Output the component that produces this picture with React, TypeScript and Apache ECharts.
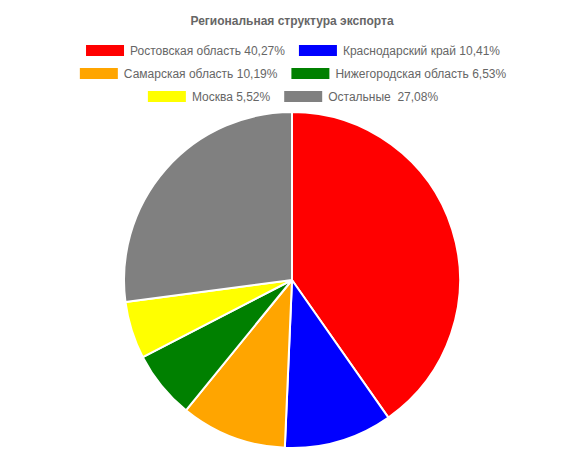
import React, { useEffect, useRef } from "react";
import * as echarts from "echarts";

const categories = [
  "Ростовская область 40,27%",
  "Краснодарский край 10,41%",
  "Самарская область 10,19%",
  "Нижегородская область 6,53%",
  "Москва 5,52%",
  "Остальные  27,08%",
];
const values = [40.27, 10.41, 10.19, 6.53, 5.52, 27.08];
const colors = ["#ff0000", "#0000ff", "#ffa500", "#008000", "#ffff00", "#808080"];
const legendRows = [
  [categories[0], categories[1]],
  [categories[2], categories[3]],
  [categories[4], categories[5]],
];

export default function App() {
  const ref = useRef<HTMLDivElement>(null);
  useEffect(() => {
    document.body.style.margin = "0";
    const chart = echarts.init(ref.current!, null, { renderer: "svg" });
    const font = "Arial, Liberation Sans, sans-serif";
    chart.setOption({
      animation: false,
      title: {
        text: "Региональная структура экспорта",
        left: "center",
        top: 10,
        textStyle: { fontSize: 12, fontWeight: "bold", color: "#666", fontFamily: font },
      },
      legend: legendRows.map((row, i) => ({
        top: 38 + i * 23,
        left: "center",
        icon: "rect",
        itemWidth: 40,
        itemHeight: 13,
        itemGap: 12,
        textStyle: { fontSize: 12, color: "#666", fontFamily: font },
        data: row,
      })),
      series: [
        {
          type: "pie",
          center: [292, 280],
          radius: 168,
          startAngle: 90,
          clockwise: true,
          label: { show: false },
          labelLine: { show: false },
          itemStyle: { borderColor: "#fff", borderWidth: 2 },
          emphasis: { disabled: true },
          data: categories.map((name, i) => ({ name, value: values[i], itemStyle: { color: colors[i] } })),
        },
      ],
    });
    return () => chart.dispose();
  }, []);
  return <div ref={ref} style={{ width: 584, height: 450 }} />;
}
